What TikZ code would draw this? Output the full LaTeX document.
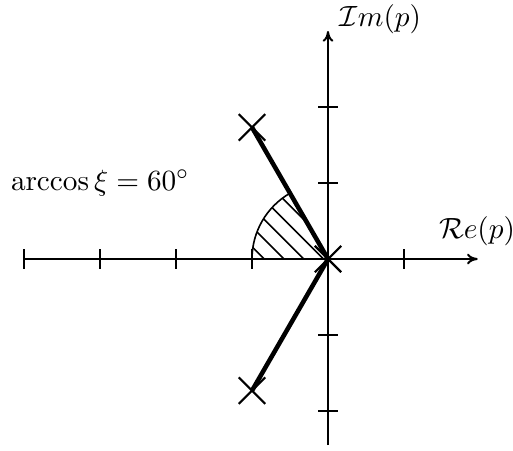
\documentclass[tikz,border=0pt]{standalone}
\usetikzlibrary{arrows.meta,shapes.misc}
\begin{document}
\begin{tikzpicture}[x=1cm,y=1cm,
  axis/.style={line width=0.75pt,-{To[length=4pt,width=4pt]}},
  tickmark/.style={line width=0.75pt},
  pole/.style={cross out,draw,line width=0.8pt,minimum size=0.32cm,inner sep=0pt},
  locus/.style={line width=1.7pt},
  hatch/.style={line width=0.6pt},
  lbl/.style={font=\fontsize{11}{13}\selectfont,inner sep=0pt}]
\useasboundingbox (-4.316,-2.526) rectangle (2.434,3.408);
% hatched sector
\begin{scope}
  \clip (0,0) -- (-1,0) arc[start angle=180,end angle=120,radius=1] -- cycle;
  \foreach \k in {-1.62,-1.36,...,1.2}
    \draw[hatch] (\k-1.5,1.5) -- (\k+1.5,-1.5);
\end{scope}
\draw[hatch] (-1,0) arc[start angle=180,end angle=120,radius=1];
% axes
\coordinate (O) at (0,0);
\coordinate (xs) at (-4,0);
\coordinate (xe) at (1.97,0);
\coordinate (ys) at (0,-2.45);
\coordinate (ye) at (0,3.0);
\draw[axis] (xs) -- (xe);
\draw[axis] (ys) -- (ye);
\foreach \x in {-4,-3,-2,-1,1}
  \draw[tickmark] (\x,-0.13) -- (\x,0.13);
\foreach \y in {-2,-1,1,2}
  \draw[tickmark] (-0.13,\y) -- (0.13,\y);
% poles
\node[pole] (P1) at (-1,1.732) {};
\node[pole] (P2) at (-1,-1.732) {};
\node[pole] (P0) at (0,0) {};
\draw[locus] (P0.center) -- (P1.center);
\draw[locus] (P0.center) -- (P2.center);
% labels
\node[lbl] (lim) at (0.69,3.16) {$\mathcal{I}m(p)$};
\node[lbl] (lre) at (1.96,0.37) {$\mathcal{R}e(p)$};
\node[lbl] (lang) at (-3.0,1.0) {$\arccos\xi = 60^\circ$};
\end{tikzpicture}
\end{document}
